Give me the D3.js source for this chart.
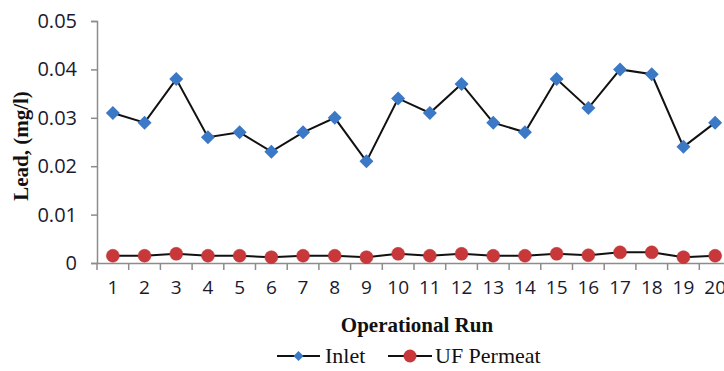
<!DOCTYPE html>
<html><head><meta charset="utf-8">
<script src="https://cdn.jsdelivr.net/npm/d3@7"></script>
<style>body{margin:0;background:#fff}</style>
</head><body>
<svg id="c" width="724" height="371"></svg>
<script>
const runs = d3.range(1, 21);
const inlet = [0.031,0.029,0.038,0.026,0.027,0.023,0.027,0.030,0.021,0.034,0.031,0.037,0.029,0.027,0.038,0.032,0.040,0.039,0.024,0.029];
const permeat = [0.0015,0.0015,0.0019,0.0015,0.0015,0.0012,0.0015,0.0015,0.0012,0.0019,0.0015,0.0019,0.0015,0.0015,0.0019,0.0016,0.0022,0.0022,0.0012,0.0015];
const yTicks = [0, 0.01, 0.02, 0.03, 0.04, 0.05];
const yTickLabels = ["0", "0.01", "0.02", "0.03", "0.04", "0.05"];

const svg = d3.select("#c");
const mLeft = 97, mBottom = 263, mTop = 21, bandW = 31.7;
const x = d3.scaleBand().domain(runs).range([mLeft, mLeft + 20 * bandW]);
const y = d3.scaleLinear().domain([0, 0.05]).range([mBottom, mTop]);
const axisColor = "#8c8c8c";
const tickFont = "'Open Sans', sans-serif";

// Y axis
const ya = svg.append("g").attr("transform", `translate(${mLeft},0)`)
  .call(d3.axisLeft(y).tickValues(yTicks).tickFormat((d, i) => yTickLabels[i]).tickSize(6).tickPadding(14));
ya.select(".domain").attr("stroke", axisColor).attr("stroke-width", 1.5);
ya.selectAll(".tick line").attr("stroke", axisColor).attr("stroke-width", 1.5);
ya.selectAll(".tick text").attr("font-family", tickFont).attr("font-size", 20).attr("fill", "#1a1a2e");

// X axis
const xa = svg.append("g").attr("transform", `translate(0,${mBottom})`)
  .call(d3.axisBottom(x).tickSize(0).tickPadding(18));
xa.select(".domain").attr("stroke", axisColor).attr("stroke-width", 1.5);
xa.selectAll(".tick text").attr("font-family", tickFont).attr("font-size", 19).attr("fill", "#1a1a2e");
// boundary ticks
svg.append("g").selectAll("line").data(runs.concat([21])).join("line")
  .attr("x1", d => mLeft + (d - 1) * bandW).attr("x2", d => mLeft + (d - 1) * bandW)
  .attr("y1", mBottom).attr("y2", mBottom + 7)
  .attr("stroke", axisColor).attr("stroke-width", 1.5);

const cx = d => x(d) + x.bandwidth() / 2;
const line = d3.line().x((d, i) => cx(runs[i])).y(d => y(d));

// Lines
svg.append("path").datum(inlet).attr("d", line).attr("fill", "none").attr("stroke", "#111").attr("stroke-width", 2);
svg.append("path").datum(permeat).attr("d", line).attr("fill", "none").attr("stroke", "#111").attr("stroke-width", 2);

const diamond = s => `M0,${-s}L${s},0L0,${s}L${-s},0Z`;
svg.append("g").selectAll("path").data(inlet).join("path")
  .attr("transform", (d, i) => `translate(${cx(runs[i])},${y(d)})`)
  .attr("d", diamond(7)).attr("fill", "#3b78c6");
svg.append("g").selectAll("circle").data(permeat).join("circle")
  .attr("cx", (d, i) => cx(runs[i])).attr("cy", d => y(d)).attr("r", 6.5)
  .attr("fill", "#c8383a").attr("stroke", "#b83232").attr("stroke-width", 0.5);

// Titles
const serif = "'Liberation Serif', 'Times New Roman', serif";
svg.append("text").attr("x", 417).attr("y", 332).attr("text-anchor", "middle")
  .attr("font-family", serif).attr("font-weight", "bold").attr("font-size", 21).attr("fill", "#111")
  .text("Operational Run");
svg.append("text").attr("transform", "translate(28,146) rotate(-90)").attr("text-anchor", "middle")
  .attr("font-family", serif).attr("font-weight", "bold").attr("font-size", 21).attr("fill", "#111")
  .text("Lead, (mg/l)");

// Legend
const leg = svg.append("g");
const ly = 356;
leg.append("line").attr("x1", 277).attr("x2", 320).attr("y1", ly).attr("y2", ly).attr("stroke", "#111").attr("stroke-width", 2);
leg.append("path").attr("transform", `translate(298.5,${ly})`).attr("d", diamond(5)).attr("fill", "#3b78c6");
leg.append("text").attr("x", 325).attr("y", ly + 7).attr("font-family", serif).attr("font-size", 22).attr("fill", "#111").text("Inlet");
leg.append("line").attr("x1", 388).attr("x2", 432).attr("y1", ly).attr("y2", ly).attr("stroke", "#111").attr("stroke-width", 2);
leg.append("circle").attr("cx", 410).attr("cy", ly).attr("r", 6.5).attr("fill", "#c8383a");
leg.append("text").attr("x", 435).attr("y", ly + 7).attr("font-family", serif).attr("font-size", 22).attr("fill", "#111").text("UF Permeat");
</script>
</body></html>
